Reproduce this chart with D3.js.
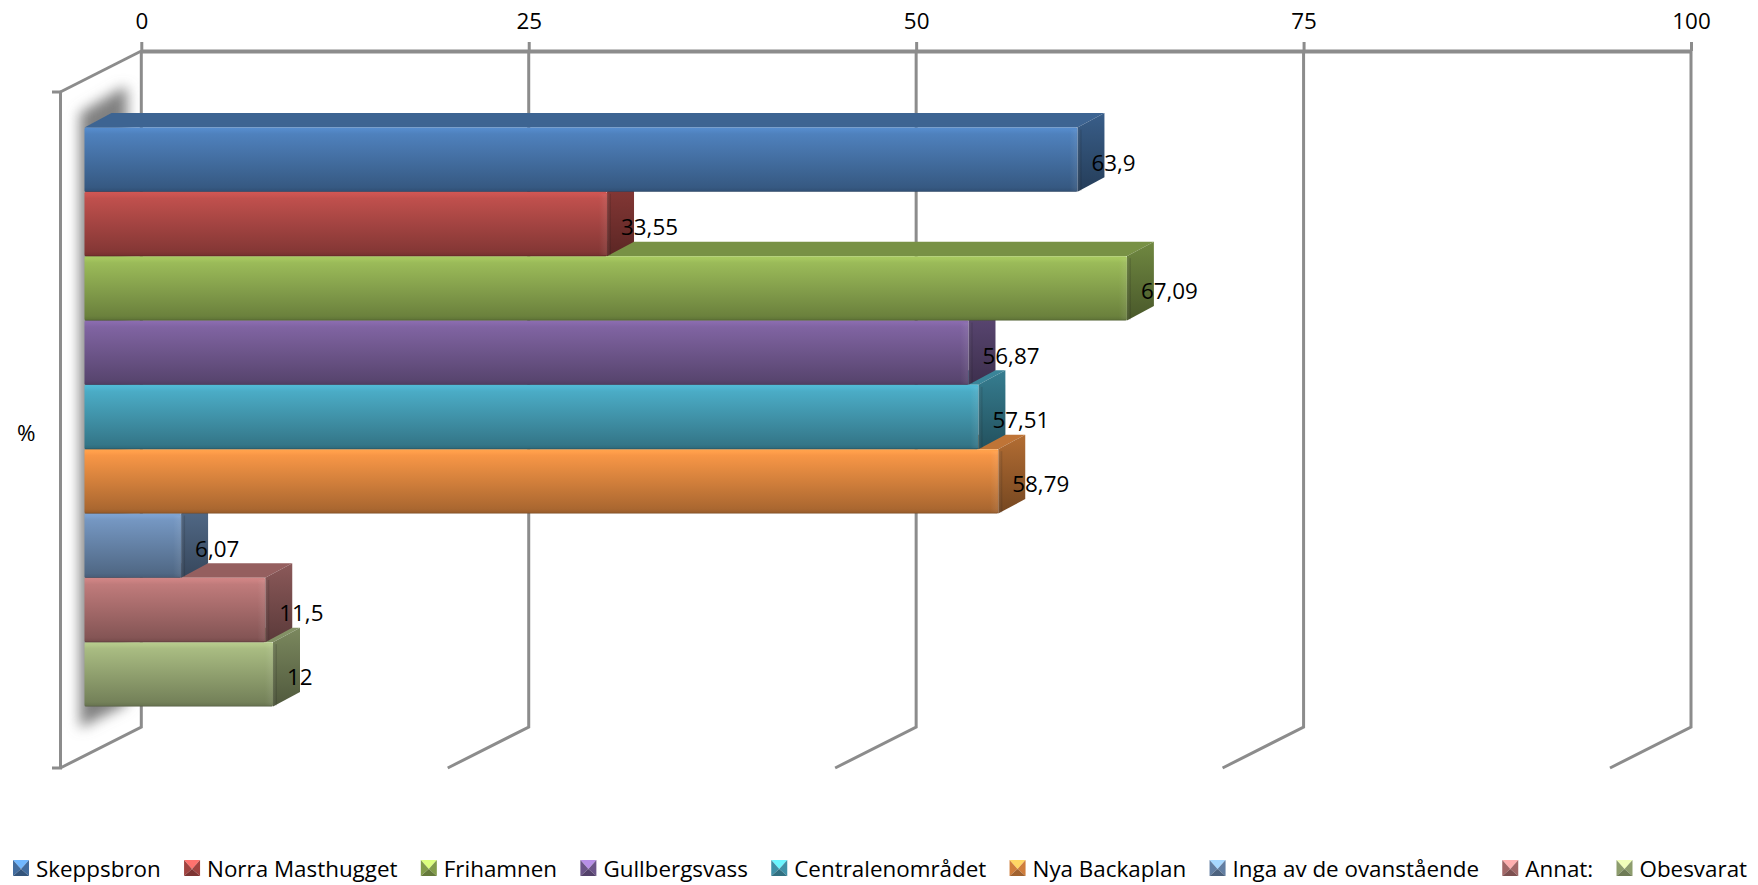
<!DOCTYPE html>
<html>
<head>
<meta charset="utf-8">
<script src="https://cdn.jsdelivr.net/npm/d3@7"></script>
<style>
  body { margin: 0; background: #fff; }
  svg { display: block; }
  text { font-family: "Open Sans", sans-serif; font-size: 22.4px; fill: #000; }
</style>
</head>
<body>
<div id="chart"></div>
<script>
var categories = ["Skeppsbron", "Norra Masthugget", "Frihamnen", "Gullbergsvass", "Centralenområdet", "Nya Backaplan", "Inga av de ovanstående", "Annat:", "Obesvarat"];
var values = [63.9, 33.55, 67.09, 56.87, 57.51, 58.79, 6.07, 11.5, 12];
var colors = ["#4f81bd", "#c0504d", "#9bbb59", "#8064a2", "#4bacc6", "#f79646", "#7597c2", "#c07b7b", "#a9bc82"];
var xTicks = [0, 25, 50, 75, 100];
var axisTitle = "%";

var width = 1758, height = 885;

// wall of the box and the front of the bars do not share a plane
var xWall = d3.scaleLinear().domain([0, 100]).range([141.3, 1691]);
var xFront = d3.scaleLinear().domain([0, 100]).range([87, 1637]);
var y = d3.scaleBand().domain(categories).range([127.5, 706.5]);

var barLeft = xFront(0) - 2.5;
var depthX = 27, depthY = 14.5;       // depth of a bar
var wallDx = 81, wallDy = 41;         // depth of the box
var axisTop = 51, axisBottom = 727;

var svg = d3.select("#chart").append("svg")
    .attr("width", width)
    .attr("height", height);

var defs = svg.append("defs");

defs.append("filter").attr("id", "blur")
    .attr("x", "-40%").attr("width", "180%")
    .attr("y", "-5%").attr("height", "110%")
  .append("feGaussianBlur").attr("stdDeviation", 6.5);

function gradient(id, stops, horizontal) {
  var g = defs.append("linearGradient").attr("id", id)
      .attr("x1", 0).attr("y1", 0)
      .attr("x2", horizontal ? 1 : 0).attr("y2", horizontal ? 0 : 1);
  stops.forEach(function(s) {
    g.append("stop").attr("offset", s[0]).attr("stop-color", s[1]).attr("stop-opacity", s[2] === undefined ? 1 : s[2]);
  });
}

colors.forEach(function(c, i) {
  var base = d3.color(c);
  gradient("front" + i, [
    [0, base.brighter(0.25)],
    [0.05, base.brighter(0.15)],
    [0.1, base],
    [0.93, base.darker(1.05)],
    [0.98, base.darker(1.3)],
    [1, base.darker(2)]
  ]);
  gradient("side" + i, [
    [0, base.darker(0.9)],
    [1, base.darker(2.1)]
  ]);
});
gradient("bevel", [[0, "#fff", 0], [0.5, "#fff", 0.06], [1, "#000", 0.16]], true);

// shadow on the wall
svg.append("path")
    .attr("d", "M80,113L122,88L127,88V704L80,728Z")
    .attr("fill", "#808080")
    .attr("filter", "url(#blur)");

// box lines
var line = d3.line();
var boxColor = "#8c8c8c";

svg.append("path")
    .attr("d", line([[52, 92], [60.5, 92], [60.5, 768], [52, 768]]))
    .attr("fill", "none").attr("stroke", boxColor).attr("stroke-width", 3);

svg.append("path")
    .attr("d", line([[xWall(0), axisTop], [xWall(0) - wallDx, axisTop + wallDy]]))
    .attr("fill", "none").attr("stroke", boxColor).attr("stroke-width", 3);

var grid = svg.append("g").selectAll("path")
    .data(xTicks)
    .enter()
    .append("path")
      .attr("d", function(d) {
        return line([[xWall(d), axisTop], [xWall(d), axisBottom], [xWall(d) - wallDx, axisBottom + wallDy]]);
      })
      .attr("fill", "none")
      .attr("stroke", boxColor)
      .attr("stroke-width", 3);

var axis = svg.append("g")
    .attr("transform", "translate(0," + axisTop + ")")
    .call(d3.axisTop(xWall).tickValues(xTicks).tickSizeInner(9).tickSizeOuter(0).tickPadding(13));

axis.select(".domain").attr("stroke", boxColor).attr("stroke-width", 4);
axis.selectAll(".tick line").attr("stroke", boxColor).attr("stroke-width", 3);
axis.selectAll(".tick text").style("font-family", "'Open Sans', sans-serif").style("font-size", "22.4px").attr("fill", "#000");

svg.append("text")
    .attr("x", 17)
    .attr("y", 441)
    .text(axisTitle);

// bars, last one first so upper bars cover the tops of the lower ones
var bars = svg.append("g").selectAll("g")
    .data(d3.range(categories.length).reverse())
    .enter()
    .append("g");

// top
bars.append("path")
    .attr("d", function(i) {
      var t = y(categories[i]), r = xFront(values[i]);
      return line([[barLeft, t], [barLeft + depthX, t - depthY], [r + depthX, t - depthY], [r, t]]) + "Z";
    })
    .attr("fill", function(i) { return d3.color(colors[i]).darker(0.72); });

// side
bars.append("path")
    .attr("d", function(i) {
      var t = y(categories[i]), b = t + y.bandwidth(), r = xFront(values[i]);
      return line([[r, t], [r + depthX, t - depthY], [r + depthX, b - depthY], [r, b]]) + "Z";
    })
    .attr("fill", function(i) { return "url(#side" + i + ")"; });

// front
bars.append("rect")
    .attr("x", barLeft)
    .attr("y", function(i) { return y(categories[i]); })
    .attr("width", function(i) { return xFront(values[i]) - barLeft; })
    .attr("height", y.bandwidth())
    .attr("rx", 1.5)
    .attr("fill", function(i) { return "url(#front" + i + ")"; });

// soft edge at the right end of the front
bars.append("rect")
    .attr("x", function(i) { return xFront(values[i]) - 8; })
    .attr("y", function(i) { return y(categories[i]) + 2; })
    .attr("width", 12)
    .attr("height", y.bandwidth() - 3)
    .attr("fill", "url(#bevel)");

// value labels
svg.append("g").selectAll("text")
    .data(values)
    .enter()
    .append("text")
      .attr("x", function(d) { return xFront(d) + 14; })
      .attr("y", function(d, i) { return y(categories[i]) + y.bandwidth() / 2 + 11; })
      .text(function(d) { return String(d).replace(".", ","); });

// legend
var legend = svg.append("g").attr("class", "legend");
var cursor = 13;
categories.forEach(function(name, i) {
  var base = d3.color(colors[i]);
  var g = legend.append("g").attr("transform", "translate(" + cursor + ",860)");
  var s = 16, m = s / 2;
  var faces = [
    [[[0, 0], [s, 0], [m, m + 1]], base.brighter(1)],
    [[[0, 0], [m, m + 1], [0, s]], base.darker(0.5)],
    [[[s, 0], [m, m + 1], [s, s]], base.darker(0.5)],
    [[[0, s], [s, s], [m, m + 1]], base.darker(1.2)]
  ];
  faces.forEach(function(f) {
    g.append("path").attr("d", line(f[0]) + "Z").attr("fill", f[1]);
  });
  var label = g.append("text")
      .attr("x", 23)
      .attr("y", 17)
      .text(name);
  cursor += 23 + label.node().getComputedTextLength() + 23.3;
});
</script>
</body>
</html>
